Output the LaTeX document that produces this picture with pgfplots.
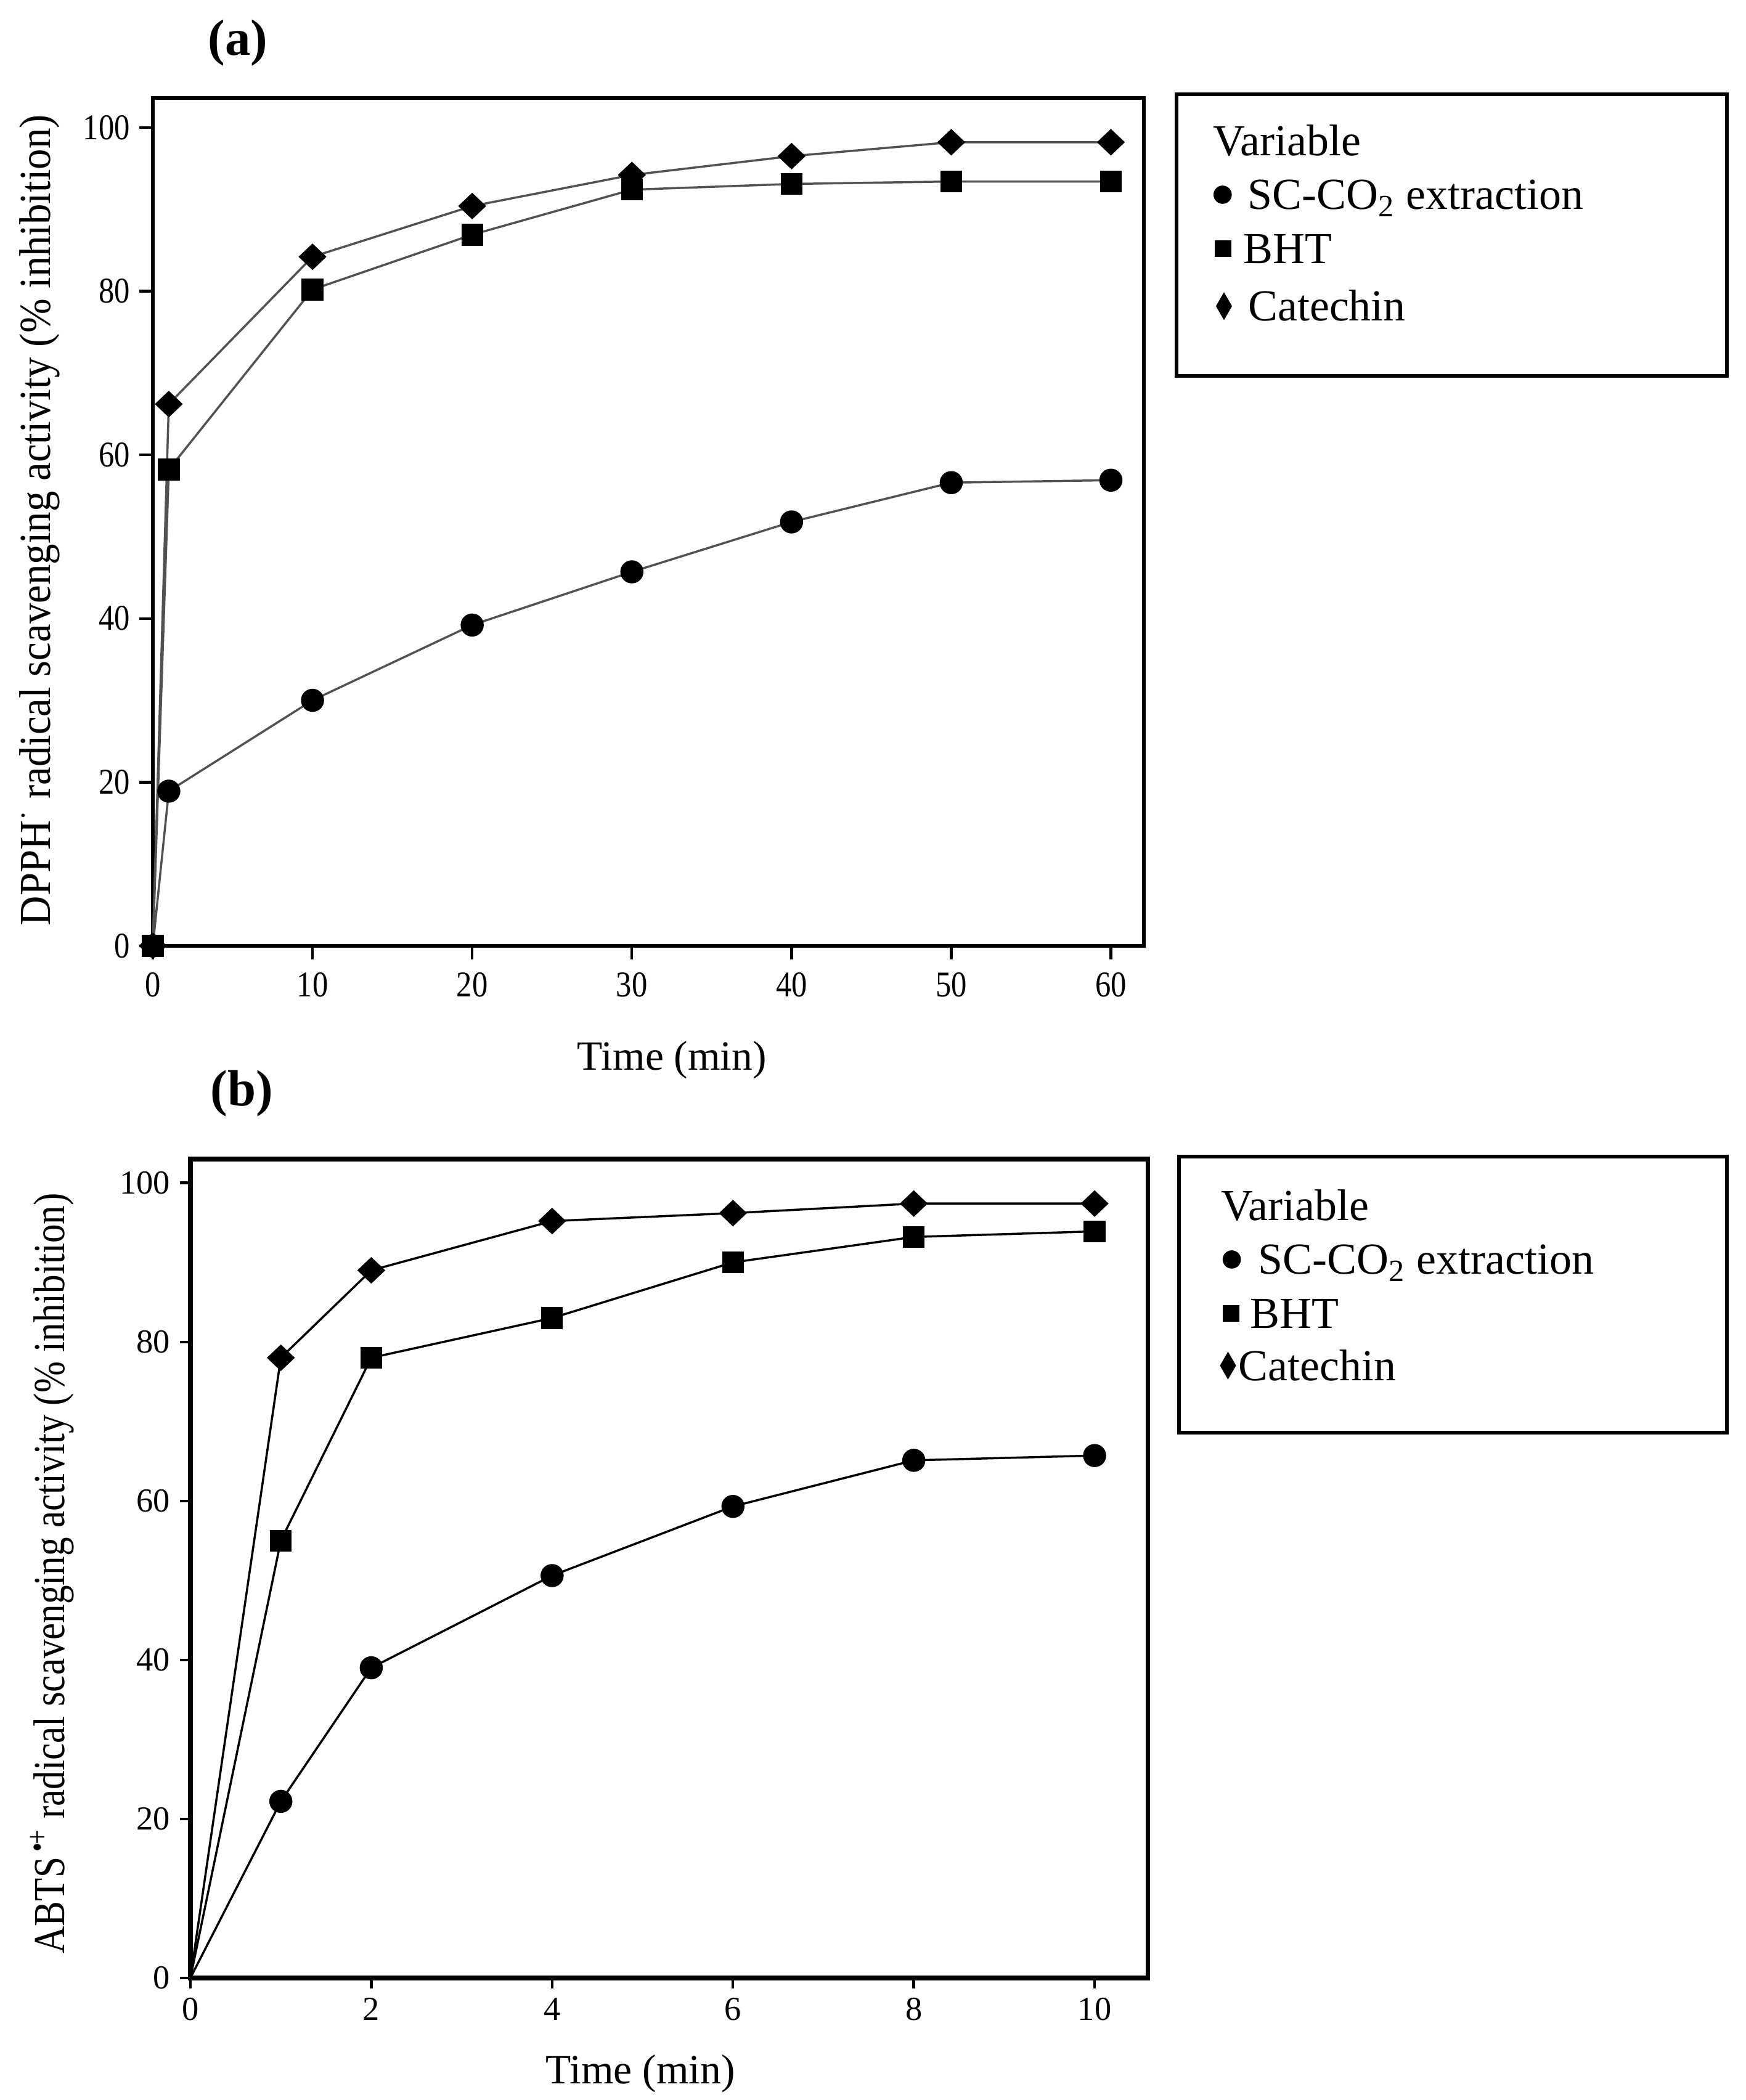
\documentclass[border=0pt]{standalone}
\usepackage{fontspec}
\setmainfont{Liberation Serif}
\newfontfamily\condA[FakeStretch=0.86]{Liberation Serif}
\newfontfamily\condY[FakeStretch=0.93]{Liberation Serif}
\newfontfamily\condB[FakeStretch=0.85]{Liberation Serif}
\usepackage{pgfplots}
\pgfplotsset{compat=1.18}
\begin{document}
\begin{tikzpicture}[x=1pt,y=1pt]
\useasboundingbox (0pt,0pt) rectangle (650pt,-782pt);
\pgfplotsset{
  myax/.style={
    scale only axis, clip=false,
    tick style={black, line width=1pt},
    tick align=outside, tick pos=left,
    ytick={0,20,40,60,80,100},
    /pgf/number format/assume math mode=true,
    label style={font=\fontsize{15.5}{18}\selectfont},
  },
  circ/.style={mark=*, mark size=3.9pt, mark options={fill=black, draw=black, solid}},
  sq/.style={mark=square*, mark size=3.65pt, mark options={fill=black, draw=black, solid}},
  dia/.style={mark=diamond*, mark size=4.4pt, mark options={fill=black, draw=black, solid, xscale=1.4}},
}
% ---------- panel (a)
\begin{axis}[myax, at={(56.9pt,-352.2pt)}, anchor=south west, width=368.9pt, height=315.7pt,
  axis line style={line width=1.4pt},
  major tick length=5pt,
  ticklabel style={font=\condA\fontsize{13.5}{15}\selectfont},
  xticklabel style={yshift=-1.5pt},
  xmin=0, xmax=62.05, ymin=0, ymax=103.6, xtick={0,10,20,30,40,50,60},
  xlabel={Time (min)},
  xlabel style={at={(axis description cs:0.524,-0.1467)}, anchor=base},
  ylabel={DPPH\textsuperscript{·} radical scavenging activity (\% inhibition)},
  ylabel style={font=\condY\fontsize{16.5}{18}\selectfont, at={(axis description cs:-0.1033,0.502)}, anchor=base}]
\addplot[color=black!68, line width=0.8pt, circ] coordinates {
 (0,0) (1,18.9) (10,30.0) (20,39.2) (30,45.7) (40,51.8) (50,56.6) (60,56.9)};
\addplot[color=black!68, line width=0.8pt, sq] coordinates {
 (0,0) (1,58.2) (10,80.2) (20,86.9) (30,92.4) (40,93.1) (50,93.4) (60,93.4)};
\addplot[color=black!68, line width=0.8pt, dia] coordinates {
 (0,0) (1,66.2) (10,84.2) (20,90.4) (30,94.2) (40,96.5) (50,98.2) (60,98.2)};
\end{axis}
% ---------- panel (b)
\begin{axis}[myax, at={(70.9pt,-736.5pt)}, anchor=south west, width=356.5pt, height=304.9pt,
  axis line style={line width=1.75pt},
  major tick length=4pt,
  ticklabel style={font=\fontsize{12.5}{14}\selectfont},
  xmin=0, xmax=10.59, ymin=0, ymax=103.0, xtick={0,2,4,6,8,10},
  xlabel={Time (min)},
  xlabel style={at={(axis description cs:0.470,-0.1289)}, anchor=base},
  ylabel={ABTS\textsuperscript{\,•\kern-0.05em+} radical scavenging activity (\% inhibition)},
  ylabel style={font=\condB\fontsize{16.5}{18}\selectfont, at={(axis description cs:-0.1313,0.494)}, anchor=base}]
\addplot[color=black, line width=0.8pt, circ] coordinates {
 (1,22.2) (2,39) (4,50.6) (6,59.3) (8,65.1) (10,65.7)};
\addplot[color=black, line width=0.8pt, sq] coordinates {
 (1,55) (2,78) (4,83) (6,90) (8,93.2) (10,93.9)};
\addplot[color=black, line width=0.8pt, dia] coordinates {
 (1,78) (2,89) (4,95.2) (6,96.2) (8,97.4) (10,97.4)};
\addplot[color=black, line width=0.8pt, no marks] coordinates {(0,0) (1,22.2)};
\addplot[color=black, line width=0.8pt, no marks] coordinates {(0,0) (1,55)};
\addplot[color=black, line width=0.8pt, no marks] coordinates {(0,0) (1,78)};
\end{axis}
% ---------- panel labels
\node[font=\fontsize{19}{21}\selectfont\bfseries] at (88.6pt,-16pt) {(a)};
\node[font=\fontsize{19}{21}\selectfont\bfseries] at (90pt,-407.2pt) {(b)};
% ---------- legend (a)
\draw[line width=1.4pt] (438pt,-35.1pt) rectangle (642.9pt,-140pt);
\begin{scope}[every node/.style={anchor=base west, inner sep=0pt, font=\fontsize{16.5}{18}\selectfont}]
\node at (451.5pt,-58pt) {Variable};
\node at (451.6pt,-78pt) {\tikz[baseline={(0,-5.5pt)}]\fill (0,0) circle (3.4pt);\hspace{6pt}SC-CO\textsubscript{2} extraction};
\node at (452pt,-98pt) {\tikz[baseline={(0,-5.5pt)}]\fill (-3.1pt,-3.1pt) rectangle (3.1pt,3.1pt);\hspace{4.5pt}BHT};
\node at (452.5pt,-119.5pt) {\tikz[baseline={(0,-5.5pt)}]\fill (0,-5.2pt) -- (3pt,0) -- (0,5.2pt) -- (-3pt,0) -- cycle;\hspace{6pt}Catechin};
\end{scope}
% ---------- legend (b)
\draw[line width=1.5pt] (438.9pt,-430.7pt) rectangle (642.9pt,-533.5pt);
\begin{scope}[every node/.style={anchor=base west, inner sep=0pt, font=\fontsize{16.5}{18}\selectfont}]
\node at (454.5pt,-454.5pt) {Variable};
\node at (455pt,-474.5pt) {\tikz[baseline={(0,-5.5pt)}]\fill (0,0) circle (3.4pt);\hspace{6.5pt}SC-CO\textsubscript{2} extraction};
\node at (455pt,-494.5pt) {\tikz[baseline={(0,-5.5pt)}]\fill (-3.1pt,-3.1pt) rectangle (3.1pt,3.1pt);\hspace{4pt}BHT};
\node at (454pt,-514pt) {\tikz[baseline={(0,-5.5pt)}]\fill (0,-5.2pt) -- (3pt,0) -- (0,5.2pt) -- (-3pt,0) -- cycle;\hspace{1pt}Catechin};
\end{scope}
\end{tikzpicture}
\end{document}
